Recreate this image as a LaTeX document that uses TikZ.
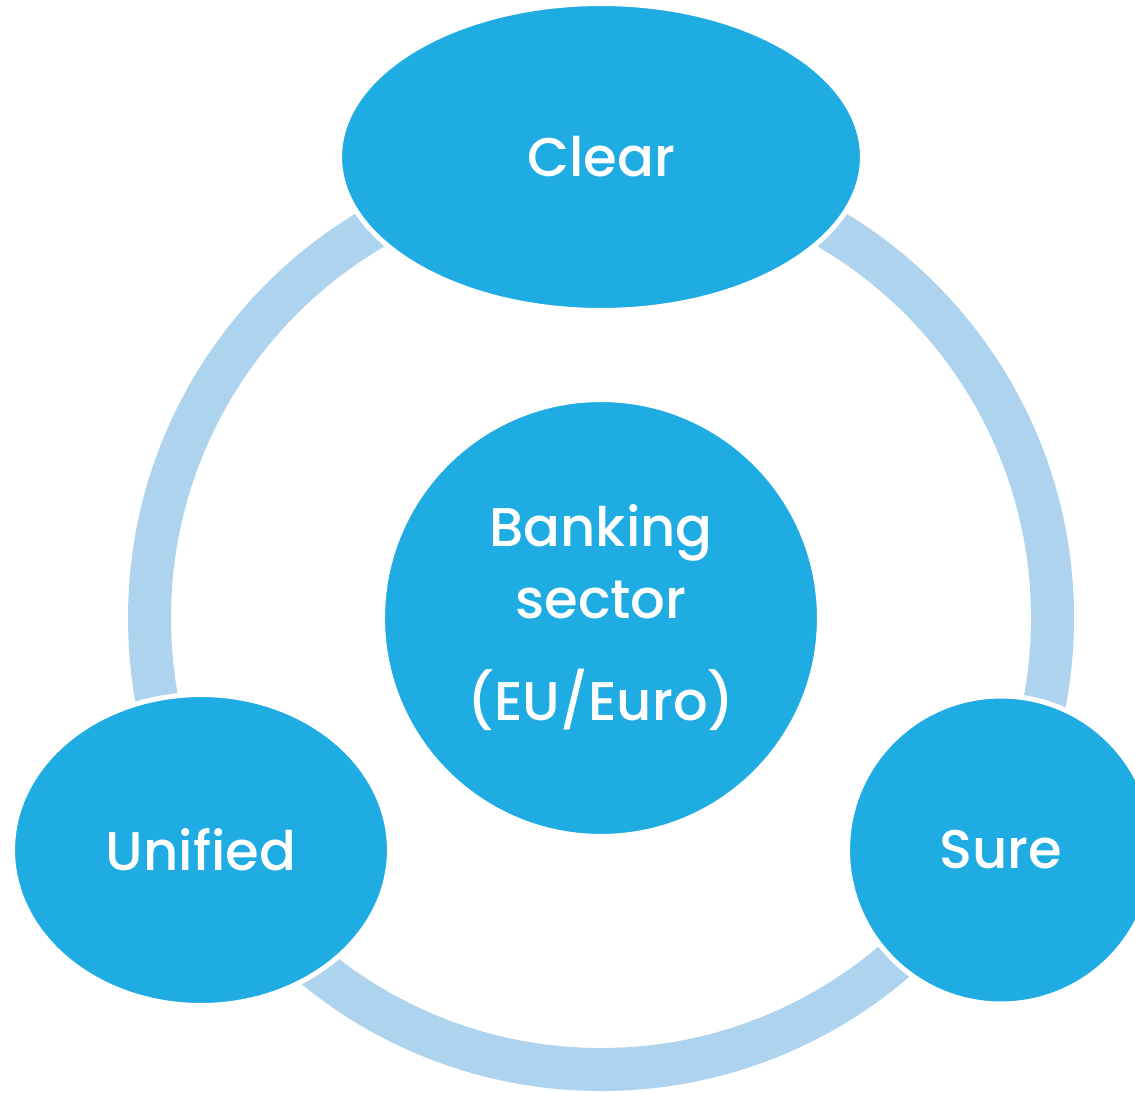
\documentclass[tikz,border=0pt]{standalone}
\usepackage{fontspec}
\setmainfont{Poppins}[UprightFont=* Medium]
\usetikzlibrary{shapes.geometric}

\definecolor{capblue}{HTML}{1EACE2}
\definecolor{ringblue}{HTML}{ADD3EE}

\tikzset{
    bubble/.style={ellipse, fill=capblue, draw=white, line width=0.1cm, inner sep=0pt,
        text=white, align=center, font=\fontsize{31}{41}\selectfont},
}

\begin{document}
\begin{tikzpicture}[x=0.02cm, y=-0.02cm]
    \useasboundingbox (0,0) rectangle (1135,1092);
    \clip (0,0) rectangle (1135,1092);

    \coordinate (O) at (601,618);
    \coordinate (C) at (601,157);
    \coordinate (U) at (201,850);
    \coordinate (S) at (1001,850);

    % ring behind the bubbles
    \draw[ringblue, line width=0.86cm] (O) circle [radius=451.5];

    \node[bubble, minimum width=8.74cm, minimum height=8.74cm] (core) at (O) {Banking\\sector\\[17pt](EU/Euro)};
    \node[bubble, minimum width=10.46cm, minimum height=6.14cm] (clear) at (C) {Clear};
    \node[bubble, minimum width=7.54cm, minimum height=6.22cm] (unified) at (U) {Unified};
    \node[bubble, minimum width=6.14cm, minimum height=6.16cm] (sure) at (S) {Sure};
\end{tikzpicture}
\end{document}
